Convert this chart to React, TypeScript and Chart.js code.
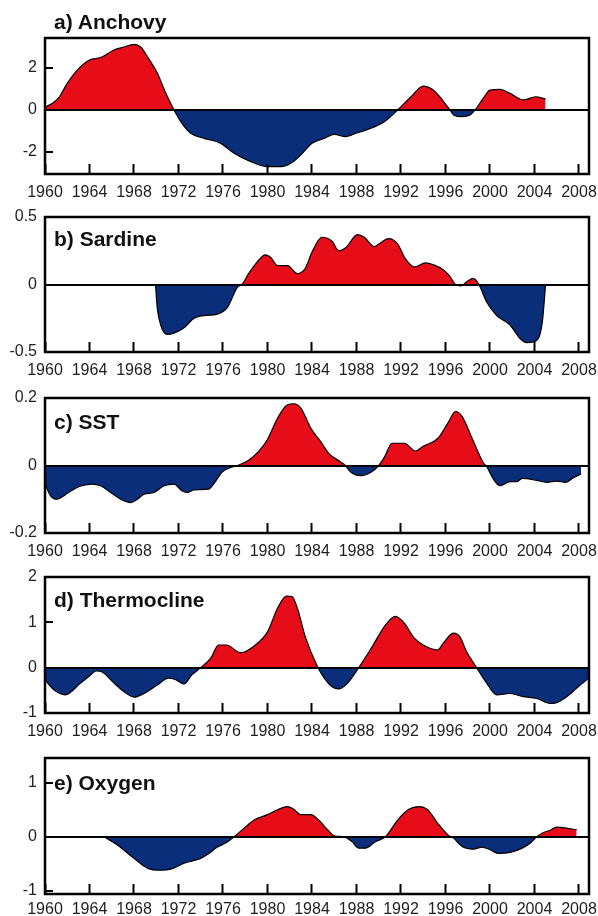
import React, { useEffect, useRef } from 'react';
import { Chart, registerables } from 'chart.js';

Chart.register(...registerables);

// ---------- data ----------
const YEAR_TICKS = [1960, 1964, 1968, 1972, 1976, 1980, 1984, 1988, 1992, 1996, 2000, 2004, 2008];
const X_MIN = 1960;
const X_MAX = 2008.9;

const ANCHOVY_YEARS = [1960, 1960.6, 1961.2, 1962.0, 1962.9, 1964.0, 1965.0, 1966.2, 1967.1, 1968.0, 1968.6, 1969.3, 1970.1, 1970.8, 1971.6, 1972.3, 1973.1, 1974.3, 1975.8, 1977.0, 1978.5, 1980.0, 1981.2, 1982.2, 1983.0, 1984.0, 1985.1, 1986.0, 1987.0, 1988.1, 1989.3, 1990.5, 1991.7, 1992.9, 1994.0, 1994.9, 1996.3, 1996.8, 1997.5, 1998.2, 1998.7, 1999.4, 2000.0, 2000.9, 2001.8, 2003.0, 2004.1, 2005.0];
const ANCHOVY_VALUES = [0.13, 0.3, 0.56, 1.27, 1.9, 2.38, 2.5, 2.86, 3.0, 3.13, 3.0, 2.46, 1.75, 0.87, 0, -0.63, -1.11, -1.35, -1.59, -2.06, -2.46, -2.7, -2.7, -2.5, -2.14, -1.59, -1.35, -1.16, -1.27, -1.08, -0.87, -0.56, 0, 0.63, 1.14, 0.95, 0.08, -0.26, -0.32, -0.24, 0.03, 0.56, 0.95, 0.98, 0.79, 0.48, 0.63, 0.52];
const ANCHOVY_TICKS = [-2, 0, 2];

const SARDINE_YEARS = [1969.93, 1970.1, 1970.4, 1971.0, 1971.6, 1972.5, 1973.4, 1974.3, 1975.5, 1976.4, 1977.3, 1977.7, 1978.3, 1979.1, 1979.8, 1980.3, 1980.9, 1981.8, 1982.7, 1983.4, 1984.0, 1984.9, 1985.8, 1986.4, 1987.0, 1988.1, 1988.7, 1989.6, 1990.0, 1990.9, 1991.7, 1992.4, 1993.2, 1994.2, 1995.1, 1995.8, 1996.4, 1996.9, 1997.4, 1997.9, 1998.5, 1999.0, 1999.7, 2000.6, 2001.8, 2002.7, 2003.3, 2004.1, 2004.7, 2005.0];
const SARDINE_VALUES = [0, -0.18, -0.30, -0.37, -0.36, -0.32, -0.25, -0.23, -0.22, -0.17, -0.02, 0.0, 0.08, 0.17, 0.22, 0.2, 0.14, 0.14, 0.08, 0.12, 0.24, 0.35, 0.32, 0.25, 0.27, 0.37, 0.35, 0.28, 0.30, 0.34, 0.30, 0.19, 0.13, 0.16, 0.14, 0.11, 0.06, 0.0, -0.01, 0.02, 0.045, 0.0, -0.13, -0.23, -0.30, -0.40, -0.43, -0.42, -0.28, 0];
const SARDINE_TICKS = [-0.5, 0, 0.5];

const SST_YEARS = [1960.0, 1960.5, 1961.1, 1961.8, 1962.6, 1963.3, 1964.2, 1965.0, 1965.9, 1966.8, 1967.7, 1968.3, 1968.9, 1969.8, 1970.7, 1971.6, 1972.3, 1972.8, 1973.4, 1974.7, 1975.2, 1975.9, 1976.7, 1977.3, 1978.2, 1979.2, 1980.0, 1980.9, 1981.8, 1982.4, 1983.0, 1983.9, 1984.8, 1985.5, 1986.6, 1987.0, 1987.5, 1988.4, 1989.3, 1990.0, 1990.5, 1991.2, 1992.3, 1993.3, 1994.0, 1995.3, 1996.2, 1996.9, 1997.5, 1998.4, 1999.4, 1999.7, 2000.3, 2000.9, 2001.8, 2002.4, 2002.9, 2004.2, 2005.1, 2006.0, 2006.8, 2007.5, 2008.2];
const SST_VALUES = [-0.055, -0.09, -0.10, -0.087, -0.07, -0.06, -0.055, -0.06, -0.08, -0.10, -0.11, -0.10, -0.085, -0.08, -0.06, -0.055, -0.075, -0.08, -0.072, -0.07, -0.053, -0.02, -0.006, 0, 0.013, 0.042, 0.077, 0.14, 0.18, 0.183, 0.17, 0.11, 0.07, 0.036, 0.01, 0, -0.02, -0.03, -0.02, 0, 0.024, 0.066, 0.066, 0.043, 0.057, 0.08, 0.125, 0.16, 0.145, 0.08, 0.008, -0.003, -0.04, -0.06, -0.048, -0.048, -0.038, -0.044, -0.05, -0.046, -0.05, -0.036, -0.025];
const SST_TICKS = [-0.2, 0, 0.2];

const THERMO_YEARS = [1960.0, 1960.8, 1961.8, 1963.2, 1964.1, 1964.6, 1965.1, 1966.2, 1967.1, 1968.0, 1968.9, 1970.1, 1971.1, 1971.7, 1972.5, 1973.2, 1974.0, 1974.9, 1975.6, 1976.3, 1977.6, 1978.8, 1980.0, 1980.9, 1981.7, 1982.2, 1982.7, 1983.4, 1984.5, 1985.1, 1985.8, 1986.4, 1987.2, 1988.2, 1989.4, 1990.6, 1991.5, 1992.3, 1993.2, 1994.0, 1995.3, 1995.8, 1996.7, 1997.3, 1997.9, 1998.8, 1999.7, 2000.6, 2001.8, 2003.0, 2004.2, 2005.4, 2006.0, 2006.9, 2007.8, 2008.9];
const THERMO_VALUES = [-0.27, -0.49, -0.60, -0.34, -0.16, -0.07, -0.09, -0.34, -0.53, -0.65, -0.57, -0.38, -0.23, -0.26, -0.36, -0.16, 0, 0.21, 0.50, 0.50, 0.33, 0.48, 0.79, 1.31, 1.58, 1.57, 1.30, 0.68, 0.02, -0.23, -0.42, -0.47, -0.34, 0, 0.46, 0.94, 1.13, 0.98, 0.65, 0.50, 0.39, 0.54, 0.76, 0.68, 0.35, 0, -0.34, -0.60, -0.57, -0.64, -0.68, -0.79, -0.77, -0.64, -0.45, -0.23];
const THERMO_TICKS = [-1, 0, 1, 2];

const OXYGEN_YEARS = [1965.3, 1966.5, 1968.0, 1969.2, 1970.4, 1971.3, 1972.5, 1974.0, 1974.6, 1975.5, 1976.2, 1977.0, 1977.9, 1978.8, 1980.0, 1980.9, 1981.8, 1982.3, 1983.0, 1983.9, 1984.6, 1985.4, 1986.0, 1986.9, 1987.6, 1988.2, 1988.8, 1989.7, 1990.6, 1991.7, 1992.7, 1993.6, 1994.4, 1995.3, 1996.3, 1996.7, 1997.5, 1998.5, 1999.3, 2000.0, 2000.8, 2001.8, 2002.9, 2003.6, 2004.2, 2004.8, 2005.4, 2006.0, 2006.9, 2007.8];
const OXYGEN_VALUES = [0, -0.15, -0.40, -0.58, -0.62, -0.60, -0.49, -0.40, -0.33, -0.19, -0.12, 0, 0.16, 0.31, 0.41, 0.50, 0.56, 0.52, 0.41, 0.41, 0.31, 0.13, 0.02, 0, -0.09, -0.21, -0.21, -0.09, 0, 0.31, 0.51, 0.56, 0.50, 0.25, 0.02, -0.02, -0.18, -0.23, -0.19, -0.24, -0.31, -0.29, -0.21, -0.12, 0, 0.08, 0.12, 0.18, 0.16, 0.13];
const OXYGEN_TICKS = [-1, 0, 1];

// ---------- styling ----------
const RED = '#E60D18';
const BLUE = '#0A2E7A';
const TEXT = '#1e1e1e';
const FONT = "'Liberation Sans', Arial, Helvetica, sans-serif";
const PAD_TOP = 14;
const X_AXIS_H = 28;
const Y_AXIS_W = 45;
const PAD_RIGHT = 9;
const WIDTH = 598;

type Panel = {
  title: string;
  years: number[];
  values: number[];
  yTicks: number[];
  yMin: number;
  yMax: number;
  boxTop: number;
  boxBottom: number;
  titleTop: number;
  labelPad: number;
};

const PANELS: Panel[] = [
  { title: 'a) Anchovy', years: ANCHOVY_YEARS, values: ANCHOVY_VALUES, yTicks: ANCHOVY_TICKS, yMin: -3.05, yMax: 3.43, boxTop: 38, boxBottom: 174, titleTop: 10.5, labelPad: 19 },
  { title: 'b) Sardine', years: SARDINE_YEARS, values: SARDINE_VALUES, yTicks: SARDINE_TICKS, yMin: -0.5, yMax: 0.5, boxTop: 217, boxBottom: 352, titleTop: 228, labelPad: 19 },
  { title: 'c) SST', years: SST_YEARS, values: SST_VALUES, yTicks: SST_TICKS, yMin: -0.2, yMax: 0.2, boxTop: 398, boxBottom: 533, titleTop: 411, labelPad: 19 },
  { title: 'd) Thermocline', years: THERMO_YEARS, values: THERMO_VALUES, yTicks: THERMO_TICKS, yMin: -1, yMax: 2, boxTop: 577, boxBottom: 713, titleTop: 589, labelPad: 19 },
  { title: 'e) Oxygen', years: OXYGEN_YEARS, values: OXYGEN_VALUES, yTicks: OXYGEN_TICKS, yMin: -1.06, yMax: 1.46, boxTop: 758, boxBottom: 894, titleTop: 771.5, labelPad: 16 },
];

const framePlugin = {
  id: 'frame',
  afterDraw(chart: any) {
    const { ctx, chartArea: a } = chart;
    ctx.save();
    ctx.strokeStyle = '#000';
    ctx.lineWidth = 2.5;
    ctx.strokeRect(a.left, a.top, a.right - a.left, a.bottom - a.top);
    ctx.restore();
  },
};

function PanelChart({ panel }: { panel: Panel }) {
  const ref = useRef<HTMLCanvasElement | null>(null);
  const height = panel.boxBottom - panel.boxTop + PAD_TOP + X_AXIS_H;

  useEffect(() => {
    if (!ref.current) return;
    const points = panel.years.map((x, i) => ({ x, y: panel.values[i] }));
    const tickFont = { family: FONT, size: 16 };
    const chart = new Chart(ref.current, {
      type: 'line',
      data: {
        datasets: [
          {
            data: points,
            borderColor: '#000',
            borderWidth: 1.2,
            pointRadius: 0,
            cubicInterpolationMode: 'monotone',
            fill: { target: { value: 0 }, above: RED, below: BLUE },
          } as any,
        ],
      },
      options: {
        responsive: false,
        animation: false,
        layout: { padding: { top: PAD_TOP, right: PAD_RIGHT, left: 0, bottom: 0 } },
        plugins: { legend: { display: false }, tooltip: { enabled: false } },
        scales: {
          x: {
            type: 'linear',
            min: X_MIN,
            max: X_MAX,
            afterBuildTicks: (s: any) => {
              s.ticks = YEAR_TICKS.map((v) => ({ value: v }));
            },
            afterFit: (s: any) => {
              s.height = X_AXIS_H;
              s.paddingLeft = 0;
              s.paddingRight = 0;
              s.paddingTop = 0;
              s.paddingBottom = 0;
            },
            border: { display: false },
            grid: {
              drawOnChartArea: false,
              drawTicks: true,
              tickLength: -10,
              tickWidth: 2,
              tickColor: '#000',
              z: 1,
            },
            ticks: {
              padding: panel.labelPad,
              autoSkip: false,
              maxRotation: 0,
              font: tickFont,
              color: TEXT,
              callback: (v: any) => String(v),
            },
          } as any,
          y: {
            type: 'linear',
            min: panel.yMin,
            max: panel.yMax,
            afterBuildTicks: (s: any) => {
              s.ticks = panel.yTicks.map((v) => ({ value: v }));
            },
            afterFit: (s: any) => {
              s.width = Y_AXIS_W;
              s.paddingLeft = 0;
              s.paddingRight = 0;
              s.paddingTop = 0;
              s.paddingBottom = 0;
            },
            border: { display: false },
            grid: {
              drawOnChartArea: true,
              color: (c: any) => (c.tick && c.tick.value === 0 ? '#000' : 'rgba(0,0,0,0)'),
              lineWidth: 2,
              drawTicks: true,
              tickLength: -8,
              tickWidth: 2,
              tickColor: '#000',
              z: 1,
            },
            ticks: {
              padding: 16,
              font: tickFont,
              color: TEXT,
              callback: (v: any) => String(v),
            },
          } as any,
        },
      },
      plugins: [framePlugin],
    });
    return () => chart.destroy();
  }, [panel]);

  return (
    <>
      <canvas
        ref={ref}
        width={WIDTH}
        height={height}
        style={{ position: 'absolute', left: 0, top: panel.boxTop - PAD_TOP, width: WIDTH, height }}
      />
      <div
        style={{
          position: 'absolute',
          left: 54,
          top: panel.titleTop,
          font: `bold 21px ${FONT}`,
          lineHeight: '21px',
          color: '#111',
          whiteSpace: 'nowrap',
        }}
      >
        {panel.title}
      </div>
    </>
  );
}

export default function App() {
  return (
    <div
      style={{
        position: 'absolute',
        left: 0,
        top: 0,
        width: WIDTH,
        height: 916,
        overflow: 'hidden',
        background: '#fff',
      }}
    >
      {PANELS.map((p) => (
        <PanelChart key={p.title} panel={p} />
      ))}
    </div>
  );
}
